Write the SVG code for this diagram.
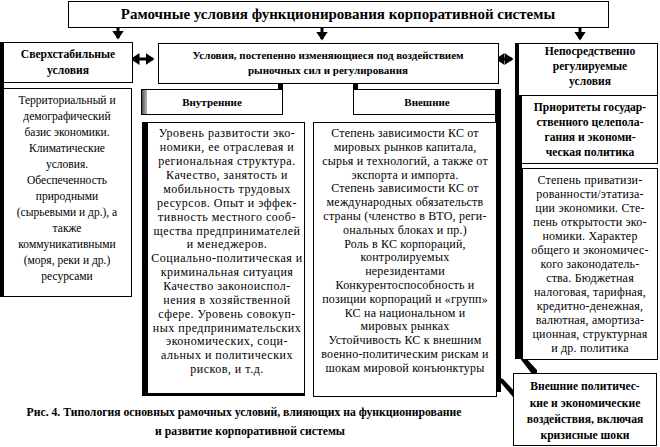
<svg xmlns="http://www.w3.org/2000/svg" width="660" height="447" viewBox="0 0 660 447">
<style>
.box{fill:#fff;stroke:#000;stroke-width:1}
.bar{fill:#000}
text{font-family:"Liberation Serif","Times New Roman","DejaVu Serif",serif;fill:#000;text-anchor:middle}
.h{font-weight:bold;font-size:11px}
.h2{font-weight:bold;font-size:11.6px}
.t{font-size:11.5px}
.t2{font-size:12px;letter-spacing:0.5px}
.t3{font-size:12px;letter-spacing:0.2px}
.title{font-weight:bold;font-size:15px}
.cap{font-weight:bold;font-size:11.7px}
.ln{stroke:#000;stroke-width:3;fill:none}
</style>
<defs>
<marker id="ah" markerWidth="4" markerHeight="4" refX="2.5" refY="2" orient="auto" markerUnits="strokeWidth">
<path d="M0,0 L3,2 L0,4 Z" fill="#000"/>
</marker>
<marker id="as" markerWidth="4" markerHeight="4" refX="0.5" refY="2" orient="auto-start-reverse" markerUnits="strokeWidth">
<path d="M0,0 L3,2 L0,4 Z" fill="#000"/>
</marker>
<linearGradient id="gl" x1="0" x2="1" y1="0" y2="0">
<stop offset="0" stop-color="#555"/><stop offset="1" stop-color="#bbb"/>
</linearGradient>
</defs>

<g id="title">
<rect class="box" x="68.5" y="1.5" width="540" height="26"/>
<text class="title" x="338" y="19">Рамочные условия функционирования корпоративной системы</text>
</g>

<g id="connectors">
<line class="ln" x1="118" y1="27" x2="118" y2="38" marker-end="url(#ah)"/>
<line class="ln" x1="322" y1="27" x2="322" y2="39" marker-end="url(#ah)"/>
<line class="ln" x1="580" y1="27" x2="580" y2="39" marker-end="url(#ah)"/>
<line class="ln" x1="138" y1="59" x2="153" y2="59" marker-start="url(#as)" marker-end="url(#ah)"/>
<line class="ln" x1="503" y1="59" x2="512" y2="59" marker-start="url(#as)" marker-end="url(#ah)"/>
<polygon points="498,377 503,379 517,394 513,397 501,383" fill="#000"/>
<polygon points="519,357 523,355 537,370 537,375 532,374" fill="#000"/>
</g>

<g id="stable-head">
<rect class="bar" x="0" y="42" width="4" height="255"/>
<rect class="box" x="3.5" y="42.5" width="129" height="40"/>
<text class="h2" x="68" y="58">Сверхстабильные</text>
<text class="h2" x="68" y="74">условия</text>
</g>

<g id="stable-body">
<rect class="box" x="3.5" y="88.5" width="128" height="208"/>
<g class="t">
<text x="67" y="104">Территориальный и</text>
<text x="67" y="120">демографический</text>
<text x="67" y="136">базис экономики.</text>
<text x="67" y="152">Климатические</text>
<text x="67" y="168">условия.</text>
<text x="67" y="184">Обеспеченность</text>
<text x="67" y="200">природными</text>
<text x="67" y="216">(сырьевыми и др.), а</text>
<text x="67" y="232">также</text>
<text x="67" y="248">коммуникативными</text>
<text x="67" y="264">(моря, реки и др.)</text>
<text x="67" y="280">ресурсами</text>
</g>
</g>

<g id="market-head">
<rect class="box" x="158.5" y="43.5" width="340" height="40"/>
<text class="h" x="328" y="59">Условия, постепенно изменяющиеся под воздействием</text>
<text class="h" x="328" y="74">рыночных сил и регулирования</text>
</g>

<g id="internal-head">
<rect class="bar" x="278" y="83" width="5" height="32"/>
<rect class="box" x="141.5" y="89.5" width="141" height="25"/>
<rect x="142" y="90" width="5" height="24" fill="url(#gl)"/>
<text class="h" x="212" y="106">Внутренние</text>
</g>

<g id="internal-body">
<rect class="box" x="142.5" y="122.5" width="162" height="273"/>
<rect class="bar" x="142" y="122" width="6" height="274"/>
<rect class="bar" x="142" y="393" width="163" height="3"/>
<g class="t2">
<text x="227" y="137">Уровень развитости эко-</text>
<text x="227" y="151">номики, ее отраслевая и</text>
<text x="227" y="165">региональная структура.</text>
<text x="227" y="179">Качество, занятость и</text>
<text x="227" y="193">мобильность трудовых</text>
<text x="227" y="207">ресурсов. Опыт и эффек-</text>
<text x="227" y="221">тивность местного сооб-</text>
<text x="227" y="235">щества предпринимателей</text>
<text x="227" y="248">и менеджеров.</text>
<text x="227" y="262">Социально-политическая и</text>
<text x="227" y="276">криминальная ситуация</text>
<text x="227" y="290">Качество законоиспол-</text>
<text x="227" y="304">нения в хозяйственной</text>
<text x="227" y="318">сфере. Уровень совокуп-</text>
<text x="227" y="332">ных предпринимательских</text>
<text x="227" y="345">экономических, соци-</text>
<text x="227" y="359">альных и политических</text>
<text x="227" y="373">рисков, и т.д.</text>
</g>
</g>

<g id="external-head">
<rect class="bar" x="353" y="83" width="5" height="32"/>
<rect class="box" x="353.5" y="89.5" width="146" height="25"/>
<rect class="bar" x="495" y="89" width="6" height="303"/>
<text class="h" x="427" y="106">Внешние</text>
</g>

<g id="external-body">
<rect class="box" x="313.5" y="122.5" width="183" height="274"/>
<g class="t3">
<text x="405" y="137">Степень зависимости КС от</text>
<text x="405" y="151">мировых рынков капитала,</text>
<text x="405" y="165">сырья и технологий, а также от</text>
<text x="405" y="179">экспорта и импорта.</text>
<text x="405" y="192">Степень зависимости КС от</text>
<text x="405" y="206">международных обязательств</text>
<text x="405" y="220">страны (членство в ВТО, реги-</text>
<text x="405" y="234">ональных блоках и пр.)</text>
<text x="405" y="248">Роль в КС корпораций,</text>
<text x="405" y="261">контролируемых</text>
<text x="405" y="275">нерезидентами</text>
<text x="405" y="289">Конкурентоспособность и</text>
<text x="405" y="303">позиции корпораций и «групп»</text>
<text x="405" y="317">КС на национальном и</text>
<text x="405" y="330">мировых рынках</text>
<text x="405" y="344">Устойчивость КС к внешним</text>
<text x="405" y="358">военно-политическим рискам и</text>
<text x="405" y="372">шокам мировой конъюнктуры</text>
</g>
</g>

<g id="regulated-head">
<rect class="bar" x="515" y="43" width="7" height="316"/>
<rect class="box" x="518.5" y="43.5" width="139" height="52"/>
<text class="h2" x="590" y="55">Непосредственно</text>
<text class="h2" x="590" y="70">регулируемые</text>
<text class="h2" x="590" y="85">условия</text>
</g>

<g id="priorities">
<rect class="box" x="521.5" y="95.5" width="136" height="68"/>
<text class="h2" x="590" y="111">Приоритеты государ-</text>
<text class="h2" x="590" y="126">ственного целепола-</text>
<text class="h2" x="590" y="141">гания и экономи-</text>
<text class="h2" x="590" y="156">ческая политика</text>
</g>

<g id="regulated-body">
<rect class="box" x="522.5" y="168.5" width="135" height="191"/>
<g class="t3">
<text x="590" y="184">Степень приватизи-</text>
<text x="590" y="198">рованности/этатиза-</text>
<text x="590" y="212">ции экономики. Сте-</text>
<text x="590" y="226">пень открытости эко-</text>
<text x="590" y="240">номики. Характер</text>
<text x="590" y="254">общего и экономичес-</text>
<text x="590" y="268">кого законодатель-</text>
<text x="590" y="282">ства. Бюджетная</text>
<text x="590" y="296">налоговая, тарифная,</text>
<text x="590" y="310">кредитно-денежная,</text>
<text x="590" y="324">валютная, амортиза-</text>
<text x="590" y="338">ционная, структурная</text>
<text x="590" y="352">и др. политика</text>
</g>
</g>

<g id="shocks">
<rect class="box" x="513.5" y="373.5" width="143" height="72"/>
<text class="h2" x="585" y="390">Внешние политичес-</text>
<text class="h2" x="585" y="407">кие и экономические</text>
<text class="h2" x="585" y="423">воздействия, включая</text>
<text class="h2" x="585" y="439">кризисные шоки</text>
</g>

<g id="caption">
<text class="cap" x="244" y="416">Рис. 4. Типология основных рамочных условий, влияющих на функционирование</text>
<text class="cap" x="250" y="435">и развитие корпоративной системы</text>
</g>
</svg>
